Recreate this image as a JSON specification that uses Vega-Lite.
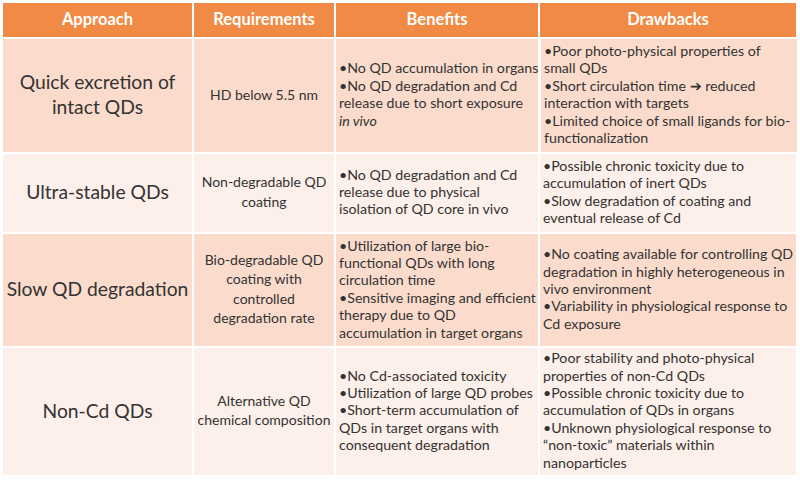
{
  "$schema": "https://vega.github.io/schema/vega-lite/v6.json",
  "background": "white",
  "padding": {"left": 3, "top": 3, "right": 0, "bottom": 0},
  "config": {"view": {"stroke": null}, "concat": {"spacing": 2}},
  "datasets": {
    "cells": [
      {"r": 0, "c": "a", "t": "Approach"},
      {"r": 0, "c": "r", "t": "Requirements"},
      {"r": 0, "c": "b", "t": "Benefits"},
      {"r": 0, "c": "d", "t": "Drawbacks"},
      {"r": 1, "c": "a", "t": "Quick excretion of\nintact QDs"},
      {"r": 1, "c": "r", "t": "HD below 5.5 nm"},
      {"r": 1, "c": "b", "t": "•No QD accumulation in organs\n•No QD degradation and Cd\nrelease due to short exposure"},
      {"r": 1, "c": "b", "em": true, "t": "in vivo"},
      {"r": 1, "c": "d", "t": "•Poor photo-physical properties of\nsmall QDs\n•Short circulation time ➔ reduced\ninteraction with targets\n•Limited choice of small ligands for bio-\nfunctionalization"},
      {"r": 2, "c": "a", "t": "Ultra-stable QDs"},
      {"r": 2, "c": "r", "t": "Non-degradable QD\ncoating"},
      {"r": 2, "c": "b", "t": "•No QD degradation and Cd\nrelease due to physical\nisolation of QD core in vivo"},
      {"r": 2, "c": "d", "t": "•Possible chronic toxicity due to\naccumulation of inert QDs\n•Slow degradation of coating and\neventual release of Cd"},
      {"r": 3, "c": "a", "t": "Slow QD degradation"},
      {"r": 3, "c": "r", "t": "Bio-degradable QD\ncoating with\ncontrolled\ndegradation rate"},
      {"r": 3, "c": "b", "t": "•Utilization of large bio-\nfunctional QDs with long\ncirculation time\n•Sensitive imaging and efficient\ntherapy due to QD\naccumulation in target organs"},
      {"r": 3, "c": "d", "t": "•No coating available for controlling QD\ndegradation in highly heterogeneous in\nvivo environment\n•Variability in physiological response to\nCd exposure"},
      {"r": 4, "c": "a", "t": "Non-Cd QDs"},
      {"r": 4, "c": "r", "t": "Alternative QD\nchemical composition"},
      {"r": 4, "c": "b", "t": "•No Cd-associated toxicity\n•Utilization of large QD probes\n•Short-term accumulation of\nQDs in target organs with\nconsequent degradation"},
      {"r": 4, "c": "d", "t": "•Poor stability and photo-physical\nproperties of non-Cd QDs\n•Possible chronic toxicity due to\naccumulation of QDs in organs\n•Unknown physiological response to\n“non-toxic” materials within\nnanoparticles"}
    ]
  },
  "data": {"name": "cells"},
  "spacing": 2,
  "vconcat": [
    {"spacing": 2, "hconcat": [
      {"width": 189, "height": 34, "view": {"fill": "#F08A44"}, "transform": [{"filter": "datum.r==0 && datum.c=='a'"}], "mark": {"type": "text", "font": "Lato", "fontSize": 16.5, "fontWeight": "bold", "color": "#FFFFFF"}, "encoding": {"text": {"field": "t"}}},
      {"width": 140, "height": 34, "view": {"fill": "#F08A44"}, "transform": [{"filter": "datum.r==0 && datum.c=='r'"}], "mark": {"type": "text", "font": "Lato", "fontSize": 16.5, "fontWeight": "bold", "color": "#FFFFFF"}, "encoding": {"text": {"field": "t"}}},
      {"width": 202, "height": 34, "view": {"fill": "#F08A44"}, "transform": [{"filter": "datum.r==0 && datum.c=='b'"}], "mark": {"type": "text", "font": "Lato", "fontSize": 16.5, "fontWeight": "bold", "color": "#FFFFFF"}, "encoding": {"text": {"field": "t"}}},
      {"width": 256, "height": 34, "view": {"fill": "#F08A44"}, "transform": [{"filter": "datum.r==0 && datum.c=='d'"}], "mark": {"type": "text", "font": "Lato", "fontSize": 16.5, "fontWeight": "bold", "color": "#FFFFFF"}, "encoding": {"text": {"field": "t"}}}
    ]},
    {"spacing": 2, "hconcat": [
      {"width": 189, "height": 113, "view": {"fill": "#FBDCCC"}, "transform": [{"filter": "datum.r==1 && datum.c=='a'"}], "mark": {"type": "text", "font": "Lato", "fontSize": 19.3, "lineHeight": 25, "dy": -12.5, "lineBreak": "\n", "color": "#333333"}, "encoding": {"text": {"field": "t"}}},
      {"width": 140, "height": 113, "view": {"fill": "#FBDCCC"}, "transform": [{"filter": "datum.r==1 && datum.c=='r'"}], "mark": {"type": "text", "font": "Lato", "fontSize": 14, "lineHeight": 19.5, "lineBreak": "\n", "color": "#333333"}, "encoding": {"text": {"field": "t"}}},
      {"width": 202, "height": 113, "view": {"fill": "#FBDCCC"}, "layer": [
        {"transform": [{"filter": "datum.r==1 && datum.c=='b' && !datum.em"}], "mark": {"type": "text", "align": "left", "font": "Lato", "fontSize": 14.2, "lineHeight": 17.4, "dy": -26.1, "lineBreak": "\n", "color": "#333333"}, "encoding": {"text": {"field": "t"}, "x": {"value": 3}}},
        {"transform": [{"filter": "datum.r==1 && datum.c=='b' && datum.em"}], "mark": {"type": "text", "align": "left", "font": "Lato", "fontStyle": "italic", "fontSize": 14.2, "dy": 26.1, "color": "#333333"}, "encoding": {"text": {"field": "t"}, "x": {"value": 3}}}
      ]},
      {"width": 256, "height": 113, "view": {"fill": "#FBDCCC"}, "transform": [{"filter": "datum.r==1 && datum.c=='d'"}], "mark": {"type": "text", "align": "left", "font": "Lato", "fontSize": 14.2, "lineHeight": 17.4, "dy": -43.5, "lineBreak": "\n", "color": "#333333"}, "encoding": {"text": {"field": "t"}, "x": {"value": 3}}}
    ]},
    {"spacing": 2, "hconcat": [
      {"width": 189, "height": 78, "view": {"fill": "#FDEFE9"}, "transform": [{"filter": "datum.r==2 && datum.c=='a'"}], "mark": {"type": "text", "font": "Lato", "fontSize": 19.3, "lineHeight": 25, "lineBreak": "\n", "color": "#333333"}, "encoding": {"text": {"field": "t"}}},
      {"width": 140, "height": 78, "view": {"fill": "#FDEFE9"}, "transform": [{"filter": "datum.r==2 && datum.c=='r'"}], "mark": {"type": "text", "font": "Lato", "fontSize": 14, "lineHeight": 19.5, "dy": -9.75, "lineBreak": "\n", "color": "#333333"}, "encoding": {"text": {"field": "t"}}},
      {"width": 202, "height": 78, "view": {"fill": "#FDEFE9"}, "transform": [{"filter": "datum.r==2 && datum.c=='b'"}], "mark": {"type": "text", "align": "left", "font": "Lato", "fontSize": 14.2, "lineHeight": 17.4, "dy": -17.4, "lineBreak": "\n", "color": "#333333"}, "encoding": {"text": {"field": "t"}, "x": {"value": 3}}},
      {"width": 256, "height": 78, "view": {"fill": "#FDEFE9"}, "transform": [{"filter": "datum.r==2 && datum.c=='d'"}], "mark": {"type": "text", "align": "left", "font": "Lato", "fontSize": 14.2, "lineHeight": 17.4, "dy": -26.1, "lineBreak": "\n", "color": "#333333"}, "encoding": {"text": {"field": "t"}, "x": {"value": 3}}}
    ]},
    {"spacing": 2, "hconcat": [
      {"width": 189, "height": 112, "view": {"fill": "#FBDCCC"}, "transform": [{"filter": "datum.r==3 && datum.c=='a'"}], "mark": {"type": "text", "font": "Lato", "fontSize": 19.3, "lineHeight": 25, "lineBreak": "\n", "color": "#333333"}, "encoding": {"text": {"field": "t"}}},
      {"width": 140, "height": 112, "view": {"fill": "#FBDCCC"}, "transform": [{"filter": "datum.r==3 && datum.c=='r'"}], "mark": {"type": "text", "font": "Lato", "fontSize": 14, "lineHeight": 19.5, "dy": -29.25, "lineBreak": "\n", "color": "#333333"}, "encoding": {"text": {"field": "t"}}},
      {"width": 202, "height": 112, "view": {"fill": "#FBDCCC"}, "transform": [{"filter": "datum.r==3 && datum.c=='b'"}], "mark": {"type": "text", "align": "left", "font": "Lato", "fontSize": 14.2, "lineHeight": 17.4, "dy": -43.5, "lineBreak": "\n", "color": "#333333"}, "encoding": {"text": {"field": "t"}, "x": {"value": 3}}},
      {"width": 256, "height": 112, "view": {"fill": "#FBDCCC"}, "transform": [{"filter": "datum.r==3 && datum.c=='d'"}], "mark": {"type": "text", "align": "left", "font": "Lato", "fontSize": 14.2, "lineHeight": 17.4, "dy": -34.8, "lineBreak": "\n", "color": "#333333"}, "encoding": {"text": {"field": "t"}, "x": {"value": 3}}}
    ]},
    {"spacing": 2, "hconcat": [
      {"width": 189, "height": 127, "view": {"fill": "#FDEFE9"}, "transform": [{"filter": "datum.r==4 && datum.c=='a'"}], "mark": {"type": "text", "font": "Lato", "fontSize": 19.3, "lineHeight": 25, "lineBreak": "\n", "color": "#333333"}, "encoding": {"text": {"field": "t"}}},
      {"width": 140, "height": 127, "view": {"fill": "#FDEFE9"}, "transform": [{"filter": "datum.r==4 && datum.c=='r'"}], "mark": {"type": "text", "font": "Lato", "fontSize": 14, "lineHeight": 19.5, "dy": -9.75, "lineBreak": "\n", "color": "#333333"}, "encoding": {"text": {"field": "t"}}},
      {"width": 202, "height": 127, "view": {"fill": "#FDEFE9"}, "transform": [{"filter": "datum.r==4 && datum.c=='b'"}], "mark": {"type": "text", "align": "left", "font": "Lato", "fontSize": 14.2, "lineHeight": 17.4, "dy": -34.8, "lineBreak": "\n", "color": "#333333"}, "encoding": {"text": {"field": "t"}, "x": {"value": 3}}},
      {"width": 256, "height": 127, "view": {"fill": "#FDEFE9"}, "transform": [{"filter": "datum.r==4 && datum.c=='d'"}], "mark": {"type": "text", "align": "left", "font": "Lato", "fontSize": 14.2, "lineHeight": 17.4, "dy": -52.2, "lineBreak": "\n", "color": "#333333"}, "encoding": {"text": {"field": "t"}, "x": {"value": 3}}}
    ]}
  ]
}
